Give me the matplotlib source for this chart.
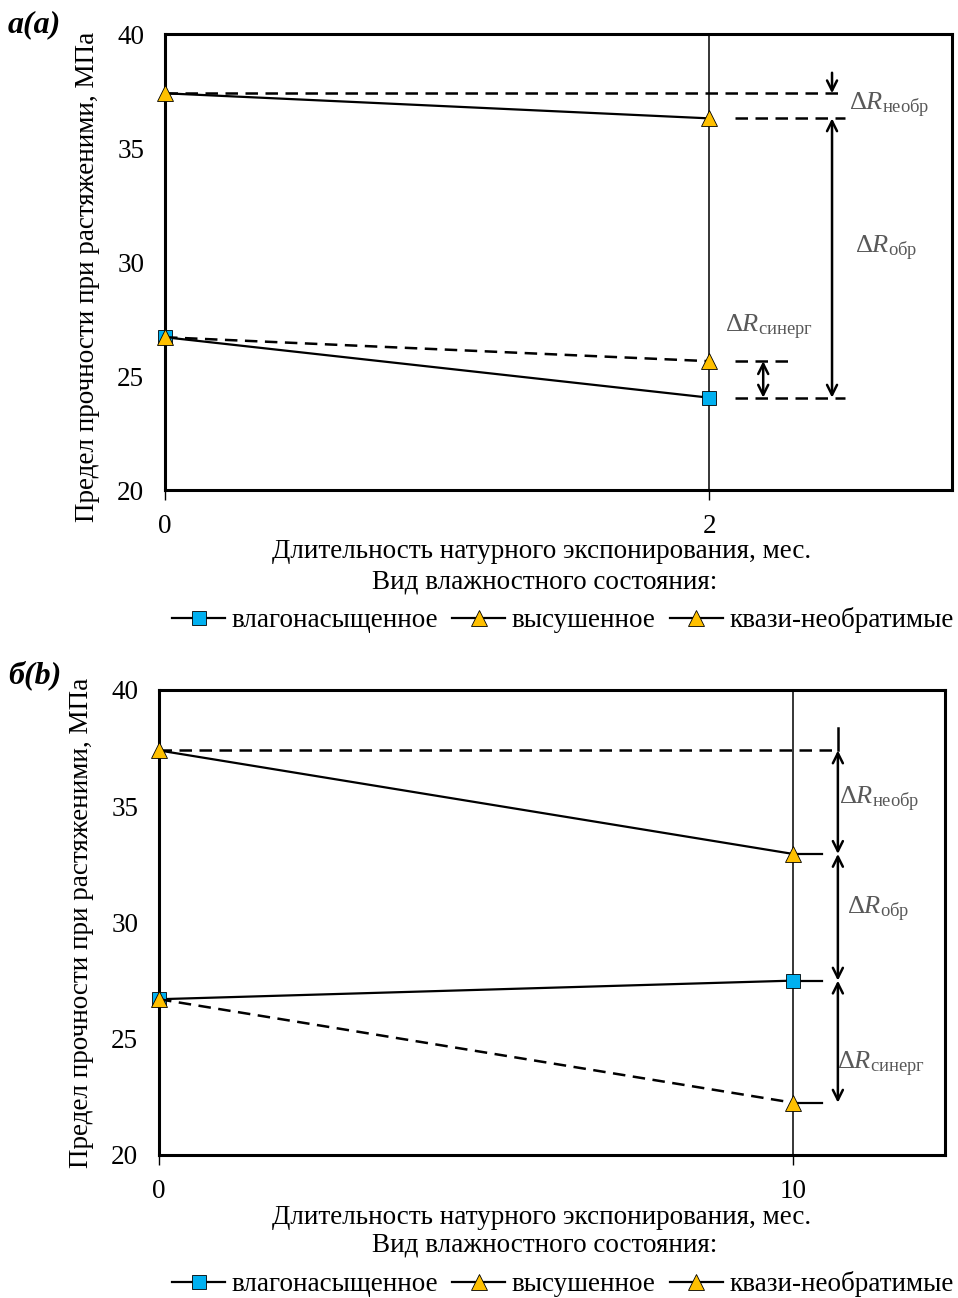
import matplotlib
matplotlib.use('Agg')
import matplotlib.pyplot as plt
from matplotlib.lines import Line2D

# данные (МПа)
x_a = [0, 2]
vlag_a = [26.7, 24.05]
vysush_a = [37.4, 36.3]
kvazi_a = [26.7, 25.65]

x_b = [0, 10]
vlag_b = [26.7, 27.5]
vysush_b = [37.4, 32.95]
kvazi_b = [26.7, 22.25]

yticks = [20, 25, 30, 35, 40]
names = ['влагонасыщенное', 'высушенное', 'квази-необратимые']

plt.rcParams['font.family'] = ['Liberation Serif', 'DejaVu Serif']
plt.rcParams['mathtext.fontset'] = 'custom'
plt.rcParams['mathtext.rm'] = 'Liberation Serif'
plt.rcParams['mathtext.it'] = 'Liberation Serif:italic'

blue = '#00B0F0'
gold = '#FFC000'
gray = '#595959'
FS = 19.5

fig = plt.figure(figsize=(9.58, 12.98), dpi=100)
ax_a = fig.add_axes([165/958, 1-490/1298, 787/958, 456/1298])
ax_b = fig.add_axes([159/958, 1-1155/1298, 786/958, 465/1298])

dash = (5, 3)


def base(ax, x, vlag, vysush, kvazi, xmax, xt):
    ax.set_xlim(0, xmax)
    ax.set_ylim(20, 40)
    ax.set_yticks(yticks)
    ax.set_xticks(xt)
    ax.axvline(x[1], color='black', lw=1.1, zorder=1)
    ax.plot(x, vlag, color='black', lw=1.6, marker='s', ms=9.5,
            mfc=blue, mec='black', mew=0.6, zorder=4, clip_on=False)
    ax.plot(x, vysush, color='black', lw=1.6, marker='^', ms=11,
            mfc=gold, mec='black', mew=0.6, zorder=4, clip_on=False)
    ax.plot(x, kvazi, color='black', lw=1.8, ls='--', dashes=dash, marker='^', ms=11,
            mfc=gold, mec='black', mew=0.6, zorder=5, clip_on=False)
    for s in ax.spines.values():
        s.set_linewidth(2.2)
    ax.tick_params(axis='x', direction='out', length=7, width=1, pad=10, labelsize=FS)
    ax.tick_params(axis='y', length=0, pad=15, labelsize=FS)
    ax.set_xlabel('Длительность натурного экспонирования, мес.', fontsize=FS)
    ax.set_ylabel('Предел прочности при растяженими, МПа', fontsize=FS)


def hdash(ax, y, x0, x1):
    ax.plot([x0, x1], [y, y], color='black', lw=1.8, ls='--', dashes=dash, zorder=2)


def arrow(ax, x, y0, y1, style='<->'):
    ax.annotate('', xy=(x, y1), xytext=(x, y0),
                arrowprops=dict(arrowstyle=style, lw=1.8, color='black',
                                mutation_scale=18, shrinkA=0, shrinkB=0))


def dlabel(ax, x, y, sub):
    ax.text(x, y, r'$\Delta R_{\mathrm{' + sub + '}}$', color=gray, fontsize=19,
            ha='left', va='center')


# панель а
base(ax_a, x_a, vlag_a, vysush_a, kvazi_a, 2.893, [0, 2])
ax_a.xaxis.set_label_coords(0.479, -0.108)
ax_a.yaxis.set_label_coords(-0.083, 0.467)
hdash(ax_a, vysush_a[0], 0, 2.5)
hdash(ax_a, vysush_a[1], 2.096, 2.5)
hdash(ax_a, kvazi_a[1], 2.096, 2.298)
hdash(ax_a, vlag_a[1], 2.096, 2.5)
arrow(ax_a, 2.452, 38.3, vysush_a[0], '->')
arrow(ax_a, 2.452, vysush_a[1], vlag_a[1])
arrow(ax_a, 2.199, kvazi_a[1], vlag_a[1])
dlabel(ax_a, 2.515, 36.85, 'необр')
dlabel(ax_a, 2.535, 30.6, 'обр')
dlabel(ax_a, 2.06, 27.15, 'синерг')

# панель б
base(ax_b, x_b, vlag_b, vysush_b, kvazi_b, 12.4, [0, 10])
ax_b.xaxis.set_label_coords(0.487, -0.108)
ax_b.yaxis.set_label_coords(-0.083, 0.5)
hdash(ax_b, vysush_b[0], 0, 10.71)
for yy in [vysush_b[1], vlag_b[1], kvazi_b[1]]:
    ax_b.plot([10, 10.46], [yy, yy], color='black', lw=1.6, zorder=2)
ax_b.plot([10.71, 10.71], [38.37, vysush_b[0]], color='black', lw=1.8)
arrow(ax_b, 10.71, vysush_b[0], vysush_b[1])
arrow(ax_b, 10.71, vysush_b[1], vlag_b[1])
arrow(ax_b, 10.71, vlag_b[1], kvazi_b[1])
dlabel(ax_b, 10.73, 35.3, 'необр')
dlabel(ax_b, 10.86, 30.55, 'обр')
dlabel(ax_b, 10.69, 23.9, 'синерг')

# легенды
handles = [
    Line2D([], [], color='black', lw=1.6, marker='s', ms=9.5, mfc=blue, mec='black', mew=0.6),
    Line2D([], [], color='black', lw=1.6, marker='^', ms=11, mfc=gold, mec='black', mew=0.6),
    Line2D([], [], color='black', lw=1.6, marker='^', ms=11, mfc=gold, mec='black', mew=0.6),
]
for ytitle, yleg in [(582, 620), (1245, 1284)]:
    fig.text(545/958, 1-ytitle/1298, 'Вид влажностного состояния:', fontsize=FS,
             ha='center', va='center')
    fig.legend(handles, names, loc='center', bbox_to_anchor=(563/958, 1-yleg/1298),
               ncol=3, frameon=False, fontsize=FS, handlelength=1.95,
               handletextpad=0.25, columnspacing=0.52, borderpad=0)

fig.text(8/958, 1-25/1298, 'а(a)', fontsize=23, fontweight='bold', style='italic',
         ha='left', va='center')
fig.text(8/958, 1-675/1298, 'б(b)', fontsize=23, fontweight='bold', style='italic',
         ha='left', va='center')

fig.savefig('out.png', dpi=100)
